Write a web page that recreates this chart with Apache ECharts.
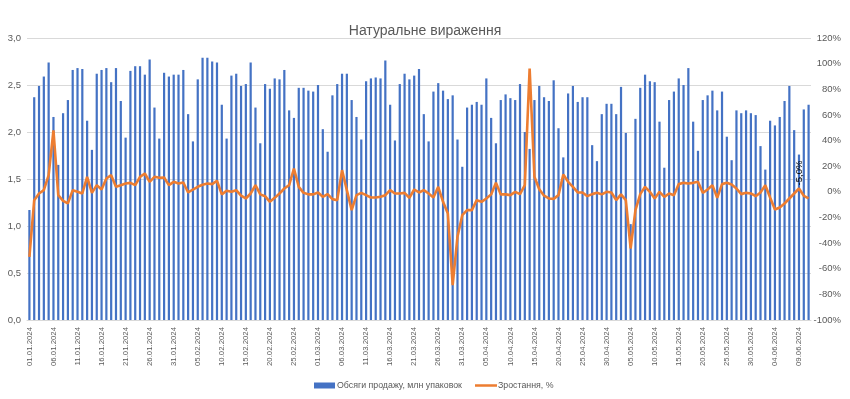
<!DOCTYPE html>
<html>
<head>
<meta charset="utf-8">
<script src="https://cdn.jsdelivr.net/npm/echarts@6/dist/echarts.min.js"></script>
<style>html,body{margin:0;padding:0;background:#fff;}#chart{width:850px;height:399px;}</style>
</head>
<body>
<div id="chart"></div>
<script>
const titleText = 'Натуральне вираження';
const seriesNames = ['Обсяги продажу, млн упаковок', 'Зростання, %'];

const categories = [
'01.01.2024','02.01.2024','03.01.2024','04.01.2024','05.01.2024','06.01.2024','07.01.2024','08.01.2024','09.01.2024','10.01.2024',
'11.01.2024','12.01.2024','13.01.2024','14.01.2024','15.01.2024','16.01.2024','17.01.2024','18.01.2024','19.01.2024','20.01.2024',
'21.01.2024','22.01.2024','23.01.2024','24.01.2024','25.01.2024','26.01.2024','27.01.2024','28.01.2024','29.01.2024','30.01.2024','31.01.2024',
'01.02.2024','02.02.2024','03.02.2024','04.02.2024','05.02.2024','06.02.2024','07.02.2024','08.02.2024','09.02.2024','10.02.2024',
'11.02.2024','12.02.2024','13.02.2024','14.02.2024','15.02.2024','16.02.2024','17.02.2024','18.02.2024','19.02.2024','20.02.2024',
'21.02.2024','22.02.2024','23.02.2024','24.02.2024','25.02.2024','26.02.2024','27.02.2024','28.02.2024','29.02.2024',
'01.03.2024','02.03.2024','03.03.2024','04.03.2024','05.03.2024','06.03.2024','07.03.2024','08.03.2024','09.03.2024','10.03.2024',
'11.03.2024','12.03.2024','13.03.2024','14.03.2024','15.03.2024','16.03.2024','17.03.2024','18.03.2024','19.03.2024','20.03.2024',
'21.03.2024','22.03.2024','23.03.2024','24.03.2024','25.03.2024','26.03.2024','27.03.2024','28.03.2024','29.03.2024','30.03.2024','31.03.2024',
'01.04.2024','02.04.2024','03.04.2024','04.04.2024','05.04.2024','06.04.2024','07.04.2024','08.04.2024','09.04.2024','10.04.2024',
'11.04.2024','12.04.2024','13.04.2024','14.04.2024','15.04.2024','16.04.2024','17.04.2024','18.04.2024','19.04.2024','20.04.2024',
'21.04.2024','22.04.2024','23.04.2024','24.04.2024','25.04.2024','26.04.2024','27.04.2024','28.04.2024','29.04.2024','30.04.2024',
'01.05.2024','02.05.2024','03.05.2024','04.05.2024','05.05.2024','06.05.2024','07.05.2024','08.05.2024','09.05.2024','10.05.2024',
'11.05.2024','12.05.2024','13.05.2024','14.05.2024','15.05.2024','16.05.2024','17.05.2024','18.05.2024','19.05.2024','20.05.2024',
'21.05.2024','22.05.2024','23.05.2024','24.05.2024','25.05.2024','26.05.2024','27.05.2024','28.05.2024','29.05.2024','30.05.2024','31.05.2024',
'01.06.2024','02.06.2024','03.06.2024','04.06.2024','05.06.2024','06.06.2024','07.06.2024','08.06.2024','09.06.2024','10.06.2024','11.06.2024'
];

const salesVolume = [
1.17,2.37,2.49,2.59,2.74,2.16,1.65,2.20,2.34,2.66,2.68,2.67,2.12,1.81,2.62,2.66,2.68,2.53,2.68,2.33,
1.94,2.65,2.70,2.70,2.61,2.77,2.26,1.93,2.63,2.59,2.61,2.61,2.66,2.19,1.90,2.56,2.79,2.79,2.75,2.74,
2.29,1.93,2.60,2.62,2.49,2.51,2.74,2.26,1.88,2.51,2.46,2.57,2.56,2.66,2.23,2.15,2.47,2.47,2.44,2.43,
2.50,2.03,1.79,2.39,2.51,2.62,2.62,2.34,2.16,1.92,2.54,2.57,2.58,2.57,2.76,2.29,1.91,2.51,2.62,2.56,
2.60,2.67,2.19,1.90,2.43,2.52,2.44,2.35,2.39,1.92,1.63,2.26,2.29,2.32,2.29,2.57,2.15,1.88,2.34,2.40,
2.36,2.34,2.51,2.00,1.82,2.34,2.49,2.37,2.33,2.55,2.04,1.73,2.41,2.49,2.32,2.37,2.37,1.86,1.69,2.19,
2.30,2.30,2.19,2.48,1.99,1.02,2.14,2.47,2.61,2.54,2.53,2.11,1.62,2.34,2.43,2.57,2.50,2.68,2.11,1.80,
2.34,2.39,2.44,2.23,2.43,1.95,1.70,2.23,2.20,2.23,2.20,2.18,1.85,1.60,2.12,2.07,2.16,2.33,2.49,2.02,
1.76,2.24,2.29
];

const growthPct = [
-50.7,-6.5,-1.3,1.3,13,48,-2.6,-7,-9,1.3,0,-1.3,11.7,-0.8,5.2,1.8,10.4,13,3.9,5.2,
6.5,7,5.2,11.7,14.3,7.8,11.7,11,11.2,5.2,7.8,6.5,7.3,-0.5,1.8,3.9,5.5,6.5,6,8.6,
-2,0.8,0,1.3,-3,-5.2,-1.3,5.2,-2,-3.4,-7.8,-4.7,-1.3,2.6,5.2,18.2,3.9,-0.8,-2,-2,
-0.5,-3.9,-1.8,-5.7,-6.5,16.9,1.3,-14.3,-2.6,-0.8,-2.6,-4.4,-4.4,-3.9,-2.6,1.3,-1.3,-1.3,-0.8,-4.7,
1.8,-0.5,1.3,-1.3,-4.4,3.9,-7.8,-16.9,-72.8,-35,-18.2,-14.3,-14.3,-6.5,-7.8,-5.2,-2,7,-2,-2,
-2.6,0,-1.8,5.2,96.2,11.7,2,-3,-5.2,-5.5,-2.6,13.5,7.8,3.9,-0.5,-0.5,-3.4,-1.8,-0.8,-2,
0,-0.5,-6.5,-2,-6.5,-44.2,-14.3,-1.8,3.9,0,-5.2,0,-3.9,-1.3,-2.6,6,7,6.5,7,7.8,
-0.8,1.8,5.2,-4.7,6,7,5.7,2.6,-1.8,-0.8,-1.3,-3.4,-0.5,5.2,-4.4,-13.8,-12.2,-9.1,-5.2,-1.3,
2.6,-3.1,-5.2
];

const labelIndex = 160;
const labelText = '-5,0%';

const lineData = growthPct.map((v, i) => i === labelIndex ? {
  value: v,
  label: {
    show: true, formatter: labelText, position: 'top', distance: 5,
    rotate: 90, align: 'left', verticalAlign: 'middle',
    color: '#000', fontSize: 9.5, fontFamily: 'Liberation Sans', offset: [-2, 0]
  }
} : v);

const chart = echarts.init(document.getElementById('chart'), null, {renderer: 'canvas'});
const font = 'Liberation Sans';
chart.setOption({
  animation: false,
  backgroundColor: '#fff',
  title: {
    text: titleText, left: 'center', top: 19,
    textStyle: {fontSize: 14, fontWeight: 'normal', color: '#595959', fontFamily: font}
  },
  legend: [
    {data: [{name: seriesNames[0], icon: 'rect'}], left: 309, top: 376, itemWidth: 21, itemHeight: 6, itemGap: 3,
     textStyle: {fontSize: 8.8, color: '#595959', fontFamily: font, padding: [0, 0, 0, -3]}},
    {data: [{name: seriesNames[1], icon: 'rect'}], left: 470, top: 376, itemWidth: 22, itemHeight: 2.5, itemGap: 3,
     textStyle: {fontSize: 8.8, color: '#595959', fontFamily: font, padding: [0, 0, 0, -4]}}
  ],
  grid: {left: 27, right: 39, top: 38, bottom: 79, containLabel: false},
  xAxis: {
    type: 'category', data: categories, boundaryGap: true,
    axisLine: {lineStyle: {color: '#D9D9D9'}},
    axisTick: {show: false},
    axisLabel: {interval: 4, rotate: 90, margin: 7, fontSize: 7.8, color: '#595959', fontFamily: font}
  },
  yAxis: [
    {type: 'value', min: 0, max: 3, interval: 0.5,
     axisLine: {show: false}, axisTick: {show: false},
     splitLine: {lineStyle: {color: '#D9D9D9'}},
     axisLabel: {fontSize: 9.5, color: '#595959', fontFamily: font, margin: 6,
       formatter: v => v.toFixed(1).replace('.', ',')}},
    {type: 'value', min: -100, max: 120, interval: 20, position: 'right',
     axisLine: {show: false}, axisTick: {show: false}, splitLine: {show: false},
     axisLabel: {fontSize: 9.5, color: '#595959', fontFamily: font, margin: 30, align: 'right',
       formatter: v => v + '%'}}
  ],
  series: [
    {name: seriesNames[0], type: 'bar', data: salesVolume, barWidth: '46%',
     itemStyle: {color: '#4472C4'}, yAxisIndex: 0},
    {name: seriesNames[1], type: 'line', data: lineData, yAxisIndex: 1,
     showSymbol: true, showAllSymbol: true, symbol: 'circle', symbolSize: 0.1,
     lineStyle: {color: '#ED7D31', width: 2.6}, itemStyle: {color: '#ED7D31'}, z: 5}
  ]
});
</script>
</body>
</html>
